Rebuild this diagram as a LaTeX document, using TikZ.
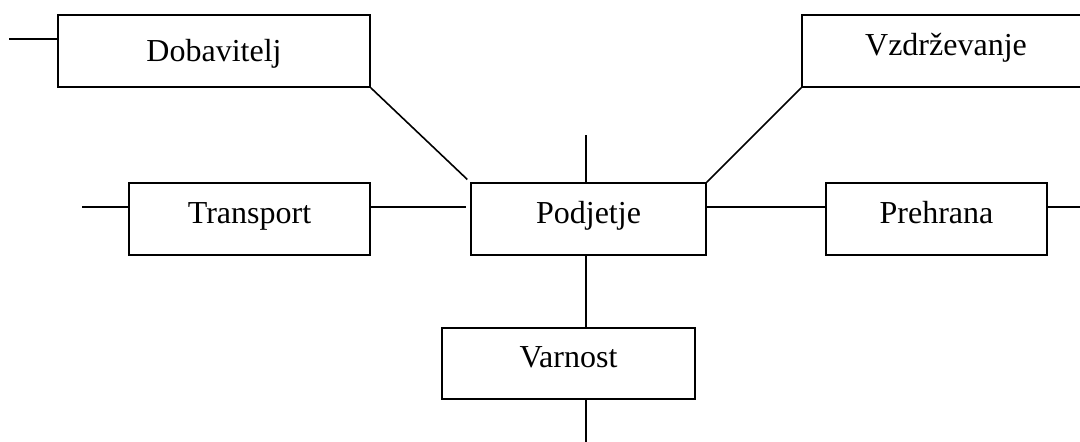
\documentclass[tikz,border=0pt]{standalone}
\usepackage{fontspec}
\setmainfont{Liberation Serif}
\begin{document}
\begin{tikzpicture}[x=1pt,y=-1pt,line width=1.6pt,
  box/.style={draw, rectangle, inner sep=0pt, minimum height=72pt,
    font=\fontsize{32}{38}\selectfont, text height=21pt, text depth=13pt},
  link/.style={line width=1.6pt}]
\useasboundingbox (0,0) rectangle (1080,442);
\begin{scope}
\clip (0,0) rectangle (1080,442);
% boxes
\node[box, minimum width=312pt, text height=21.5pt, text depth=0pt] (dob) at (214,51) {Dobavitelj};
\node[box, minimum width=288pt] (vzd) at (946,51) {Vzdrževanje};
\node[box, minimum width=241pt] (tra) at (249.5,219) {Transport};
\node[box, minimum width=235pt] (pod) at (588.5,219) {Podjetje};
\node[box, minimum width=221pt] (pre) at (936.5,219) {Prehrana};
\node[box, minimum width=253pt, minimum height=71pt] (var) at (568.5,363.5) {Varnost};
% free line ends
\coordinate (dobL) at (9,39);
\coordinate (traL) at (82,207);
\coordinate (preR) at (1090,207);
\coordinate (top) at (586,135);
\coordinate (bot) at (586,450);
% connectors
\draw[link] (dobL) -- (dobL -| dob.west);
\draw[link] (traL) -- (traL -| tra.west);
\draw[link, shorten >=4pt] (tra.east |- traL) -- (pod.west |- traL);
\draw[link] (pod.east |- traL) -- (pre.west |- traL);
\draw[link] (pre.east |- traL) -- (preR);
\draw[link, shorten >=4pt] (dob.south east) -- (pod.north west);
\draw[link] (vzd.south west) -- (pod.north east);
\draw[link] (pod.north -| top) -- (top);
\draw[link] (pod.south -| top) -- (var.north -| top);
\draw[link] (var.south -| top) -- (bot);
\end{scope}
\end{tikzpicture}
\end{document}
